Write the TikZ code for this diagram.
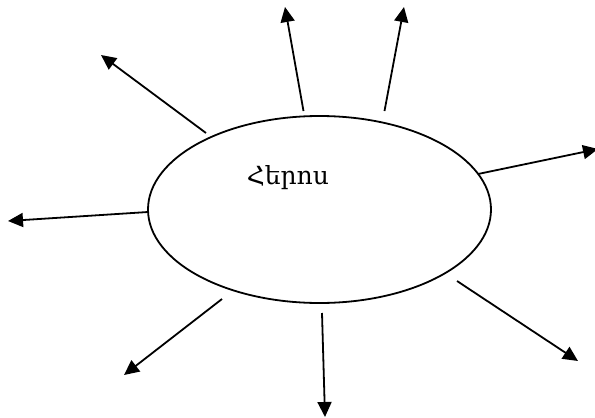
\documentclass[tikz,border=0pt]{standalone}
\usepackage{fontspec}
\setmainfont{DejaVu Serif}
\usetikzlibrary{arrows.meta,shapes.geometric}
\begin{document}
\begin{tikzpicture}[x=1pt,y=-1pt,
  ray/.style={line width=1.8pt,-{Triangle[length=15pt,width=14pt]}},
  hub/.style={ellipse,draw,line width=1.8pt,minimum width=343pt,minimum height=187pt,inner sep=0pt}]
\useasboundingbox (0,0) rectangle (595,418);
\node[hub] (e) at (319.5,209.5) {};
\node[font=\fontsize{25}{30}\selectfont] (t) at (288,178) {Հերոս};
\coordinate (s1) at (206,133); \coordinate (t1) at (101,55);
\coordinate (s2) at (303.5,111); \coordinate (t2) at (285,7);
\coordinate (s3) at (384.5,111); \coordinate (t3) at (404,7);
\coordinate (s4) at (478,174); \coordinate (t4) at (598,149);
\coordinate (s5) at (148,212); \coordinate (t5) at (8,221);
\coordinate (s6) at (222,299); \coordinate (t6) at (124,375);
\coordinate (s7) at (322,313); \coordinate (t7) at (325,417);
\coordinate (s8) at (457,281); \coordinate (t8) at (578,361);
\foreach \i in {1,...,8} \draw[ray] (s\i) -- (t\i);
\end{tikzpicture}
\end{document}
